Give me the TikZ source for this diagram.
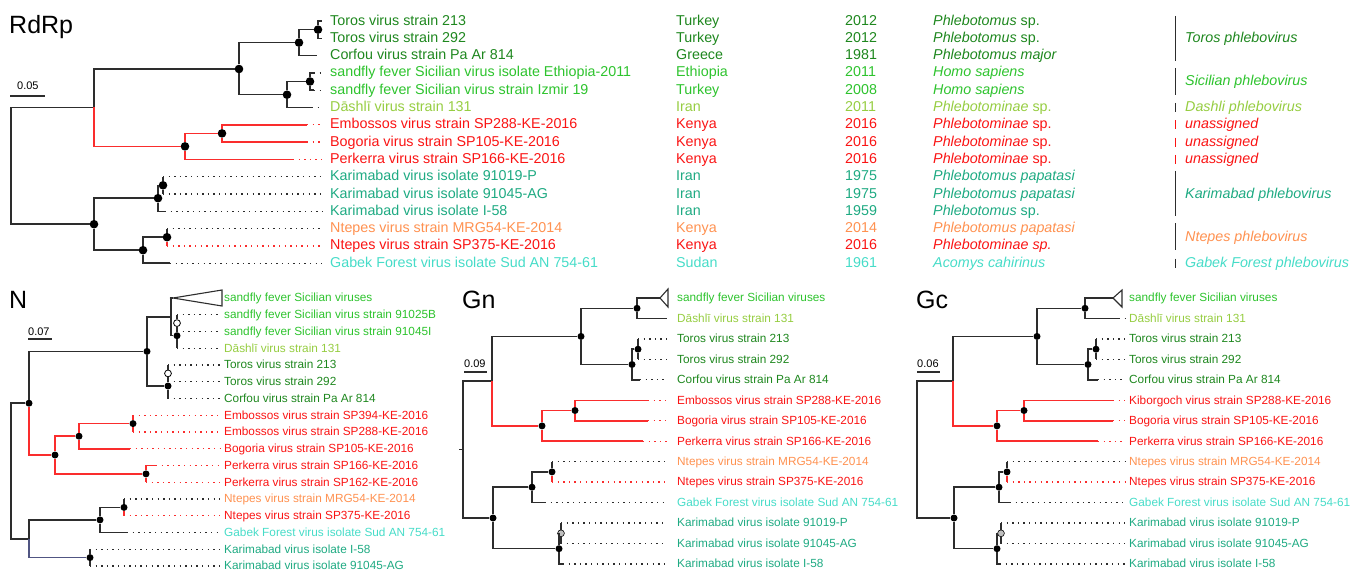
\documentclass[tikz,border=0pt]{standalone}
\usepackage{fontspec}
\setmainfont{Liberation Sans}
\definecolor{torosgreen}{RGB}{30,135,30}
\definecolor{sicgreen}{RGB}{45,195,45}
\definecolor{dashgreen}{RGB}{150,205,65}
\definecolor{virred}{RGB}{250,20,20}
\definecolor{karteal}{RGB}{30,170,130}
\definecolor{ntorange}{RGB}{255,145,80}
\definecolor{gabturq}{RGB}{70,220,200}
\definecolor{branch}{RGB}{45,45,45}
\definecolor{branchred}{RGB}{250,45,45}
\definecolor{branchblue}{RGB}{80,85,130}
% leaf branch: solid part from the parent, then a dotted run to the tip
\newcommand\twig[7]{%
  \coordinate (#2s) at (#3,#5);
  \coordinate (#2) at (#4,#5);
  \draw[#6] (#1) |- (#2s);
  \draw[#7] (#2s) -- (#2);}
\begin{document}
\begin{tikzpicture}[x=1pt,y=-1pt,
  br/.style={draw=branch,line width=1.5pt},
  brr/.style={draw=branchred,line width=1.5pt},
  brb/.style={draw=branchblue,line width=1.5pt},
  dk/.style={draw=branch,line width=1.3pt,dash pattern=on 1.3pt off 4.3pt},
  dr/.style={draw=branchred,line width=1.3pt,dash pattern=on 1.3pt off 4.3pt},
  bdot/.style={circle,fill=black,inner sep=0pt,minimum size=8.6pt},
  sdot/.style={circle,fill=black,inner sep=0pt,minimum size=7pt},
  odot/.style={circle,draw=black,fill=white,line width=0.8pt,inner sep=0pt,minimum size=6.8pt},
  gdot/.style={circle,draw=black,fill=gray!50,line width=0.6pt,inner sep=0pt,minimum size=6.8pt},
  bigtxt/.style={anchor=mid west,inner sep=0pt,font=\fontsize{14.3}{16}\selectfont,yshift=-1.4pt},
  bigit/.style={bigtxt,font=\fontsize{14.3}{16}\selectfont\itshape},
  smtxt/.style={anchor=mid west,inner sep=0pt,font=\fontsize{11.8}{14}\selectfont,yshift=-1.2pt},
  ttl/.style={anchor=base west,inner sep=0pt,font=\fontsize{25}{28}\selectfont},
  scl/.style={anchor=base west,inner sep=0pt,font=\fontsize{11}{13}\selectfont},
  clade/.style={draw=branch,line width=0.9pt},
  tri/.style={draw=branch,line width=1.1pt,line join=miter}]
\path[use as bounding box] (0,0) rectangle (1351,572);

%% ================= RdRp =================
\node[ttl] (rtitle) at (9,34) {RdRp};
\node[scl] (rscale) at (17,90) {0.05};
\draw[br,line width=1.2pt] (10,96) -- (45,96);

\coordinate (rR) at (11,166);
\coordinate (rA) at (94,107.5);
\node[bdot] (rB) at (239,69) {};
\node[bdot] (rC) at (299,42.6) {};
\node[bdot] (rD) at (318,29.6) {};
\node[bdot] (rE) at (287,94.7) {};
\node[bdot] (rF) at (310,81.5) {};
\node[bdot] (rG) at (185,146.4) {};
\node[bdot] (rH) at (222,133.4) {};
\node[bdot] (rI) at (94,224.2) {};
\node[bdot] (rJ) at (158,198.2) {};
\node[bdot] (rK) at (163,185.3) {};
\node[bdot] (rL) at (143,250.2) {};
\node[bdot] (rM) at (167,237.2) {};

\draw[br] (rR) |- (rA);
\draw[br] (rR) |- (rI);
\draw[br] (rA) |- (rB);
\draw[brr] (rA) |- (rG);
\draw[br] (rB) |- (rC);
\draw[br] (rB) |- (rE);
\draw[br] (rC) |- (rD);
\draw[br] (rE) |- (rF);
\draw[brr] (rG) |- (rH);
\draw[br] (rI) |- (rJ);
\draw[br] (rI) |- (rL);
\draw[br] (rJ) |- (rK);
\draw[br] (rL) |- (rM);

\twig{rD}{rt0}{322}{322}{21}{br}{dk}
\twig{rD}{rt1}{322}{322}{38.3}{br}{dk}
\twig{rC}{rt2}{317}{317}{55.6}{br}{dk}
\twig{rF}{rt3}{314}{322}{72.9}{br}{dk}
\twig{rF}{rt4}{314}{322}{90.2}{br}{dk}
\twig{rE}{rt5}{312}{322}{107.5}{br}{dk}
\twig{rH}{rt6}{307}{322}{124.8}{brr}{dr}
\twig{rH}{rt7}{307}{322}{142.1}{brr}{dr}
\twig{rG}{rt8}{293}{322}{159.4}{brr}{dr}
\twig{rK}{rt9}{163}{322}{176.7}{br}{dk}
\twig{rK}{rt10}{163}{322}{194}{br}{dk}
\twig{rJ}{rt11}{165}{322}{211.3}{br}{dk}
\twig{rM}{rt12}{167}{322}{228.6}{br}{dk}
\twig{rM}{rt13}{167}{322}{245.9}{brr}{dr}
\twig{rL}{rt14}{170}{322}{263.2}{br}{dk}

\foreach \i/\c/\nm/\ct/\yr/\hs in {
  0/torosgreen/Toros virus strain 213/Turkey/2012/{\textit{Phlebotomus} sp.},
  1/torosgreen/Toros virus strain 292/Turkey/2012/{\textit{Phlebotomus} sp.},
  2/torosgreen/Corfou virus strain Pa Ar 814/Greece/1981/{\textit{Phlebotomus major}},
  3/sicgreen/sandfly fever Sicilian virus isolate Ethiopia-2011/Ethiopia/2011/{\textit{Homo sapiens}},
  4/sicgreen/sandfly fever Sicilian virus strain Izmir 19/Turkey/2008/{\textit{Homo sapiens}},
  5/dashgreen/Dāshlī virus strain 131/Iran/2011/{\textit{Phlebotominae} sp.},
  6/virred/Embossos virus strain SP288-KE-2016/Kenya/2016/{\textit{Phlebotominae} sp.},
  7/virred/Bogoria virus strain SP105-KE-2016/Kenya/2016/{\textit{Phlebotominae} sp.},
  8/virred/Perkerra virus strain SP166-KE-2016/Kenya/2016/{\textit{Phlebotominae} sp.},
  9/karteal/Karimabad virus isolate 91019-P/Iran/1975/{\textit{Phlebotomus papatasi}},
  10/karteal/Karimabad virus isolate 91045-AG/Iran/1975/{\textit{Phlebotomus papatasi}},
  11/karteal/Karimabad virus isolate I-58/Iran/1959/{\textit{Phlebotomus} sp.},
  12/ntorange/Ntepes virus strain MRG54-KE-2014/Kenya/2014/{\textit{Phlebotomus papatasi}},
  13/virred/Ntepes virus strain SP375-KE-2016/Kenya/2016/{\textit{Phlebotominae sp.}},
  14/gabturq/Gabek Forest virus isolate Sud AN 754-61/Sudan/1961/{\textit{Acomys cahirinus}}} {
  \node[bigtxt,text=\c] (rl\i) at (330,21+17.3*\i) {\nm};
  \node[bigtxt,text=\c] (rc\i) at (676,21+17.3*\i) {\ct};
  \node[bigtxt,text=\c] (ry\i) at (845,21+17.3*\i) {\yr};
  \node[bigtxt,text=\c] (rh\i) at (933,21+17.3*\i) {\hs};
}

% species column
\draw[clade] (1175,16) -- (1175,61);
\node[bigit,text=torosgreen] (sp1) at (1185,38.3) {Toros phlebovirus};
\draw[clade] (1175,68) -- (1175,95);
\node[bigit,text=sicgreen] (sp2) at (1185,81.5) {Sicilian phlebovirus};
\draw[clade] (1175,103) -- (1175,112);
\node[bigit,text=dashgreen] (sp3) at (1185,107.5) {Dashli phlebovirus};
\foreach \i in {6,7,8} {
  \draw[draw=virred,line width=0.9pt] (1175,21+17.3*\i-4.5) -- (1175,21+17.3*\i+4.5);
  \node[bigit,text=virred] (spu\i) at (1185,21+17.3*\i) {unassigned};
}
\draw[clade] (1175,171) -- (1175,216);
\node[bigit,text=karteal] (sp4) at (1185,194) {Karimabad phlebovirus};
\draw[clade] (1175,223) -- (1175,250);
\node[bigit,text=ntorange] (sp5) at (1185,237.2) {Ntepes phlebovirus};
\draw[clade] (1175,258.7) -- (1175,267.7);
\node[bigit,text=gabturq] (sp6) at (1185,263.2) {Gabek Forest phlebovirus};

%% ================= N =================
\node[ttl] (ntitle) at (9,308) {N};
\node[scl] (nscale) at (28,335) {0.07};
\draw[br,line width=1.2pt] (28,339) -- (52,339);

\coordinate (nR) at (11,471);
\node[sdot] (nA) at (29,403.2) {};
\node[sdot] (nB) at (147,351.4) {};
\coordinate (nC) at (171,316.9);
\node[sdot] (nD) at (177,335.7) {};
\node[odot] (nQ) at (177,323.1) {};
\node[sdot] (nE) at (168,386) {};
\node[odot] (nT) at (168,373.4) {};
\node[sdot] (nF) at (55,455) {};
\node[sdot] (nG) at (79,436.2) {};
\node[sdot] (nH) at (133,423.6) {};
\node[sdot] (nK) at (146,473.9) {};
\coordinate (nL) at (29,538.8);
\node[sdot] (nM) at (100,519.9) {};
\node[sdot] (nN) at (124,507.4) {};
\node[sdot] (nP) at (90,557.6) {};
\coordinate (napex) at (173,298);

\draw[br] (nR) |- (nA);
\draw[br] (nR) |- (nL);
\draw[br] (nA) |- (nB);
\draw[brr] (nA) |- (nF);
\draw[br] (nB) |- (nC);
\draw[br] (nB) |- (nE);
\draw[br] (nC) |- (nD);
\draw[br] (nC) |- (napex);
\draw[br] (nD) -- (nQ);
\draw[br] (nE) -- (nT);
\draw[brr] (nF) |- (nG);
\draw[brr] (nF) |- (nK);
\draw[brr] (nG) |- (nH);
\draw[br] (nL) |- (nM);
\draw[brb] (nL) |- (nP);
\draw[br] (nM) |- (nN);
\draw[tri] (napex) -- (222,290) -- (222,306) -- cycle;

\twig{nQ}{nt1}{177}{220}{314.75}{br}{dk}
\twig{nQ}{nt2}{177}{220}{331.5}{br}{dk}
\twig{nD}{nt3}{177}{220}{348.25}{br}{dk}
\twig{nT}{nt4}{168}{220}{365}{br}{dk}
\twig{nT}{nt5}{168}{220}{381.75}{br}{dk}
\twig{nE}{nt6}{168}{220}{398.5}{br}{dk}
\twig{nH}{nt7}{133}{220}{415.25}{brr}{dr}
\twig{nH}{nt8}{133}{220}{432}{brr}{dr}
\twig{nG}{nt9}{130}{220}{448.75}{brr}{dr}
\twig{nK}{nt10}{156}{220}{465.5}{brr}{dr}
\twig{nK}{nt11}{146}{220}{482.25}{brr}{dr}
\twig{nN}{nt12}{124}{220}{499}{br}{dk}
\twig{nN}{nt13}{124}{220}{515.75}{brr}{dr}
\twig{nM}{nt14}{127}{220}{532.5}{br}{dk}
\twig{nP}{nt15}{90}{220}{549.25}{br}{dk}
\twig{nP}{nt16}{90}{220}{566}{br}{dk}

\foreach \i/\c/\t in {
  0/sicgreen/sandfly fever Sicilian viruses,
  1/sicgreen/sandfly fever Sicilian virus strain 91025B,
  2/sicgreen/sandfly fever Sicilian virus strain 91045I,
  3/dashgreen/Dāshlī virus strain 131,
  4/torosgreen/Toros virus strain 213,
  5/torosgreen/Toros virus strain 292,
  6/torosgreen/Corfou virus strain Pa Ar 814,
  7/virred/Embossos virus strain SP394-KE-2016,
  8/virred/Embossos virus strain SP288-KE-2016,
  9/virred/Bogoria virus strain SP105-KE-2016,
  10/virred/Perkerra virus strain SP166-KE-2016,
  11/virred/Perkerra virus strain SP162-KE-2016,
  12/ntorange/Ntepes virus strain MRG54-KE-2014,
  13/virred/Ntepes virus strain SP375-KE-2016,
  14/gabturq/Gabek Forest virus isolate Sud AN 754-61,
  15/karteal/Karimabad virus isolate I-58,
  16/karteal/Karimabad virus isolate 91045-AG} {
  \node[smtxt,text=\c] (nl\i) at (224,298+16.75*\i) {\t};
}

%% ================= Gn =================
\node[ttl] (gtitle) at (462,308) {Gn};
\node[scl] (gscale) at (464,367) {0.09};
\draw[br,line width=1.2pt] (464,372) -- (487,372);

\coordinate (gS) at (459,449.5);
\coordinate (gR) at (463,449.5);
\coordinate (g7) at (492,381.1);
\node[sdot] (g4) at (581,336.4) {};
\node[sdot] (g1) at (637,308.3) {};
\node[sdot] (g3) at (632,364.5) {};
\node[sdot] (g2) at (638,349.2) {};
\node[sdot] (g6) at (542,425.9) {};
\node[sdot] (g5) at (575,410.5) {};
\node[sdot] (g12) at (493,518) {};
\node[sdot] (g9) at (532,487.2) {};
\node[sdot] (g8) at (552,471.9) {};
\node[sdot] (g11) at (559,548.7) {};
\node[gdot] (g10) at (561,533.3) {};
\coordinate (gapex) at (660,298);

\draw[br] (gS) -- (gR);
\draw[br] (gR) |- (g7);
\draw[br] (gR) |- (g12);
\draw[br] (g7) |- (g4);
\draw[brr] (g7) |- (g6);
\draw[br] (g4) |- (g1);
\draw[br] (g4) |- (g3);
\draw[br] (g3) |- (g2);
\draw[br] (g1) |- (gapex);
\draw[brr] (g6) |- (g5);
\draw[br] (g12) |- (g9);
\draw[br] (g12) |- (g11);
\draw[br] (g9) |- (g8);
\draw[br] (g11) |- (g10);
\draw[tri] (gapex) -- (668,289) -- (668,307) -- cycle;

\twig{g1}{gt1}{667}{667}{318.5}{br}{dk}
\twig{g2}{gt2}{638}{667}{338.9}{br}{dk}
\twig{g2}{gt3}{638}{667}{359.4}{br}{dk}
\twig{g3}{gt4}{640}{667}{379.8}{br}{dk}
\twig{g5}{gt5}{648}{667}{400.3}{brr}{dr}
\twig{g5}{gt6}{648}{667}{420.8}{brr}{dr}
\twig{g6}{gt7}{643}{667}{441.2}{brr}{dr}
\twig{g8}{gt8}{552}{667}{461.7}{br}{dk}
\twig{g8}{gt9}{552}{667}{482.1}{brr}{dr}
\twig{g9}{gt10}{545}{667}{502.6}{br}{dk}
\twig{g10}{gt11}{561}{667}{523.1}{br}{dk}
\twig{g10}{gt12}{561}{667}{543.5}{br}{dk}
\twig{g11}{gt13}{563}{667}{564}{br}{dk}

\foreach \i/\c/\t in {
  0/sicgreen/sandfly fever Sicilian viruses,
  1/dashgreen/Dāshlī virus strain 131,
  2/torosgreen/Toros virus strain 213,
  3/torosgreen/Toros virus strain 292,
  4/torosgreen/Corfou virus strain Pa Ar 814,
  5/virred/Embossos virus strain SP288-KE-2016,
  6/virred/Bogoria virus strain SP105-KE-2016,
  7/virred/Perkerra virus strain SP166-KE-2016,
  8/ntorange/Ntepes virus strain MRG54-KE-2014,
  9/virred/Ntepes virus strain SP375-KE-2016,
  10/gabturq/Gabek Forest virus isolate Sud AN 754-61,
  11/karteal/Karimabad virus isolate 91019-P,
  12/karteal/Karimabad virus isolate 91045-AG,
  13/karteal/Karimabad virus isolate I-58} {
  \node[smtxt,text=\c] (gl\i) at (677,298+20.46*\i) {\t};
}

%% ================= Gc =================
\node[ttl] (ctitle) at (916,308) {Gc};
\node[scl] (cscale) at (917,367) {0.06};
\draw[br,line width=1.2pt] (917,372) -- (940,372);

\coordinate (cR) at (917,449.5);
\coordinate (c7) at (953,381.1);
\node[sdot] (c4) at (1037,336.4) {};
\node[sdot] (c1) at (1085,308.3) {};
\node[sdot] (c3) at (1088,364.5) {};
\node[sdot] (c2) at (1096,349.2) {};
\node[sdot] (c6) at (997,425.9) {};
\node[sdot] (c5) at (1024,410.5) {};
\node[sdot] (c12) at (954,518) {};
\node[sdot] (c9) at (999,487.2) {};
\node[sdot] (c8) at (1007,471.9) {};
\node[sdot] (c11) at (997,548.7) {};
\node[gdot] (c10) at (1001,533.3) {};
\coordinate (capex) at (1113,298);

\draw[br] (cR) |- (c7);
\draw[br] (cR) |- (c12);
\draw[br] (c7) |- (c4);
\draw[brr] (c7) |- (c6);
\draw[br] (c4) |- (c1);
\draw[br] (c4) |- (c3);
\draw[br] (c3) |- (c2);
\draw[br] (c1) |- (capex);
\draw[brr] (c6) |- (c5);
\draw[br] (c12) |- (c9);
\draw[br] (c12) |- (c11);
\draw[br] (c9) |- (c8);
\draw[br] (c11) |- (c10);
\draw[tri] (capex) -- (1122,290) -- (1122,307) -- cycle;

\twig{c1}{ct1}{1119}{1125}{318.5}{br}{dk}
\twig{c2}{ct2}{1096}{1125}{338.9}{br}{dk}
\twig{c2}{ct3}{1096}{1125}{359.4}{br}{dk}
\twig{c3}{ct4}{1098}{1125}{379.8}{br}{dk}
\twig{c5}{ct5}{1113}{1125}{400.3}{brr}{dr}
\twig{c5}{ct6}{1113}{1125}{420.8}{brr}{dr}
\twig{c6}{ct7}{1098}{1125}{441.2}{brr}{dr}
\twig{c8}{ct8}{1007}{1125}{461.7}{br}{dk}
\twig{c8}{ct9}{1007}{1125}{482.1}{brr}{dr}
\twig{c9}{ct10}{1010}{1125}{502.6}{br}{dk}
\twig{c10}{ct11}{1001}{1125}{523.1}{br}{dk}
\twig{c10}{ct12}{1001}{1125}{543.5}{br}{dk}
\twig{c11}{ct13}{1000}{1125}{564}{br}{dk}

\foreach \i/\c/\t in {
  0/sicgreen/sandfly fever Sicilian viruses,
  1/dashgreen/Dāshlī virus strain 131,
  2/torosgreen/Toros virus strain 213,
  3/torosgreen/Toros virus strain 292,
  4/torosgreen/Corfou virus strain Pa Ar 814,
  5/virred/Kiborgoch virus strain SP288-KE-2016,
  6/virred/Bogoria virus strain SP105-KE-2016,
  7/virred/Perkerra virus strain SP166-KE-2016,
  8/ntorange/Ntepes virus strain MRG54-KE-2014,
  9/virred/Ntepes virus strain SP375-KE-2016,
  10/gabturq/Gabek Forest virus isolate Sud AN 754-61,
  11/karteal/Karimabad virus isolate 91019-P,
  12/karteal/Karimabad virus isolate 91045-AG,
  13/karteal/Karimabad virus isolate I-58} {
  \node[smtxt,text=\c] (cl\i) at (1129,298+20.46*\i) {\t};
}
\end{tikzpicture}
\end{document}
